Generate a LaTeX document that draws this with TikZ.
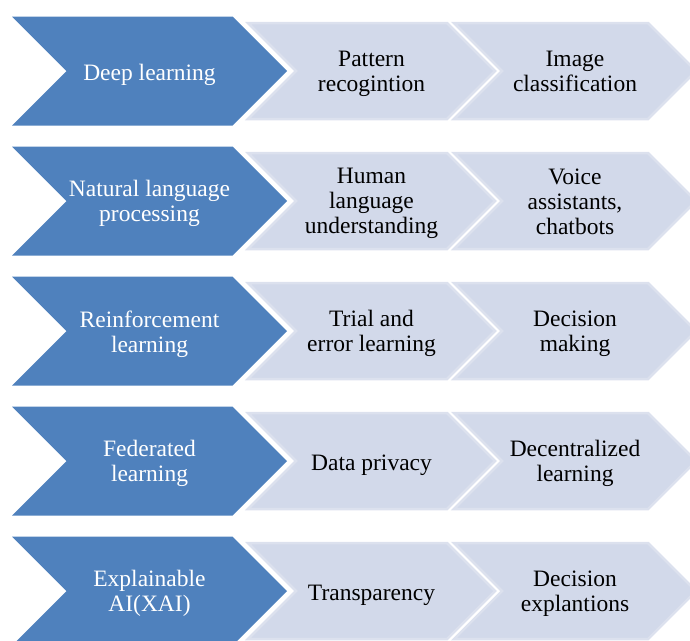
\documentclass[tikz,border=0pt]{standalone}
\usepackage{fontspec}
\setmainfont{Liberation Serif}
\definecolor{chevdark}{HTML}{4F81BD}
\definecolor{chevlight}{HTML}{D2D9EA}
\definecolor{chevedge}{HTML}{DCE1EE}
% chevron: #1 left x, #2 tip x, #3 centre y, #4 half height
\newcommand{\chevronpath}[4]{%
  (#1,#3-#4) -- (#2-#4,#3-#4) -- (#2,#3) -- (#2-#4,#3+#4) -- (#1,#3+#4) -- (#1+#4,#3) -- cycle}
\begin{document}
\begin{tikzpicture}[x=1pt,y=-1pt,
  darkchev/.style={fill=chevdark},
  lightchev/.style={fill=chevlight, draw=chevedge, line width=2.5pt, line join=miter},
  label base/.style={align=center, inner sep=0pt, font=\fontsize{23.5}{25}\selectfont,
    execute at begin node=\strut, execute at end node=\strut},
  darklabel/.style={label base, text=white},
  lightlabel/.style={label base, text=black}]
\useasboundingbox (0,0) rectangle (690,640);
\clip (0,0) rectangle (690,640);
\foreach \cy/\ta/\tb/\tc/\n in {
  71/{Deep learning}/{Pattern\\recogintion}/{Image\\classification}/1,
  201/{Natural language\\processing}/{Human\\language\\understanding}/{Voice\\assistants,\\chatbots}/2,
  331/{Reinforcement\\learning}/{Trial and\\error learning}/{Decision\\making}/3,
  461/{Federated\\learning}/{Data privacy}/{Decentralized\\learning}/4,
  591/{Explainable\\AI(XAI)}/{Transparency}/{Decision\\explantions}/5} {
  \fill[darkchev] \chevronpath{12}{287}{\cy}{54.5};
  \draw[lightchev] \chevronpath{248}{495}{\cy}{48};
  \draw[lightchev] \chevronpath{454}{696}{\cy}{48};
  \node[darklabel] (topic\n) at (149.5,\cy+4) {\ta};
  \node[lightlabel] (trait\n) at (371.5,\cy+4) {\tb};
  \node[lightlabel] (use\n) at (575,\cy+4) {\tc};
}
\end{tikzpicture}
\end{document}
